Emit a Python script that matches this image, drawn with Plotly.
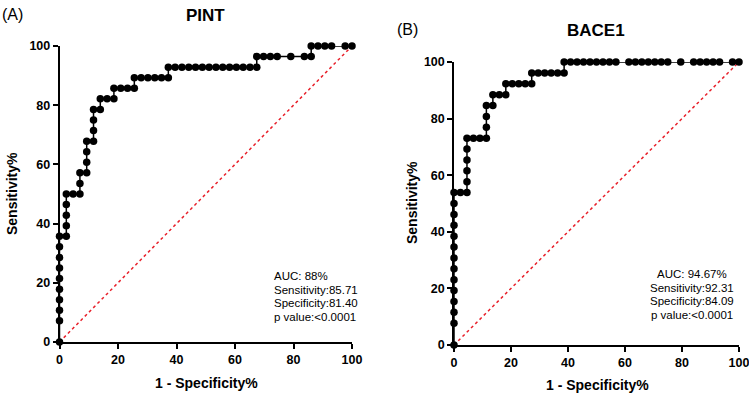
import plotly.graph_objects as go

# ---------------- data ----------------
pint_fpr = [0, 0, 0, 0, 0, 0, 0, 0, 0, 0,
            2.33, 2.33, 2.33, 2.33, 2.33,
            4.65,
            6.98, 6.98, 6.98,
            9.30, 9.30, 9.30, 9.30,
            11.63, 11.63, 11.63, 11.63,
            13.95, 13.95,
            16.28,
            18.60, 18.60,
            20.93, 23.26,
            25.58, 25.58,
            27.91, 30.23, 32.56, 34.88,
            37.21, 37.21,
            39.53, 41.86, 44.19, 46.51, 48.84, 51.16, 53.49, 55.81, 58.14, 60.47, 62.79, 65.12,
            67.44, 67.44,
            69.77, 72.09, 74.42,
            79.07,
            83.72,
            86.05, 86.05,
            88.37, 90.70, 93.02,
            97.67, 100]
pint_sens = [0, 7.14, 10.71, 14.29, 17.86, 21.43, 25.00, 28.57, 32.14, 35.71,
             35.71, 39.29, 42.86, 46.43, 50.00,
             50.00,
             50.00, 53.57, 57.14,
             57.14, 60.71, 64.29, 67.86,
             67.86, 71.43, 75.00, 78.57,
             78.57, 82.14,
             82.14,
             82.14, 85.71,
             85.71, 85.71,
             85.71, 89.29,
             89.29, 89.29, 89.29, 89.29,
             89.29, 92.86,
             92.86, 92.86, 92.86, 92.86, 92.86, 92.86, 92.86, 92.86, 92.86, 92.86, 92.86, 92.86,
             92.86, 96.43,
             96.43, 96.43, 96.43,
             96.43,
             96.43,
             96.43, 100,
             100, 100, 100,
             100, 100]

bace1_fpr = [0, 0, 0, 0, 0, 0, 0, 0, 0, 0, 0, 0, 0, 0,
             2.27,
             4.55, 4.55, 4.55, 4.55, 4.55, 4.55,
             6.82, 9.09,
             11.36, 11.36, 11.36, 11.36,
             13.64, 13.64,
             15.91,
             18.18, 18.18,
             20.45, 22.73, 25.00,
             27.27, 27.27,
             29.55, 31.82, 34.09, 36.36,
             38.64, 38.64,
             40.91, 43.18, 45.45, 47.73, 50.00, 52.27, 54.55, 56.82,
             61.36, 63.64, 65.91, 68.18, 70.45, 72.73, 75.00,
             79.55,
             84.09, 86.36, 88.64, 90.91, 93.18,
             97.73, 100]
bace1_sens = [0, 7.69, 11.54, 15.38, 19.23, 23.08, 26.92, 30.77, 34.62, 38.46, 42.31, 46.15, 50.00, 53.85,
              53.85,
              53.85, 57.69, 61.54, 65.38, 69.23, 73.08,
              73.08, 73.08,
              73.08, 76.92, 80.77, 84.62,
              84.62, 88.46,
              88.46,
              88.46, 92.31,
              92.31, 92.31, 92.31,
              92.31, 96.15,
              96.15, 96.15, 96.15, 96.15,
              96.15, 100,
              100, 100, 100, 100, 100, 100, 100, 100,
              100, 100, 100, 100, 100, 100, 100,
              100,
              100, 100, 100, 100, 100,
              100, 100]

ref_line = [0, 100]
tick_vals = [0, 20, 40, 60, 80, 100]
tick_text = ["0", "20", "40", "60", "80", "100"]

panel_titles = ["PINT", "BACE1"]
panel_tags = ["(A)", "(B)"]
pint_stats = ["AUC: 88%", "Sensitivity:85.71", "Specificity:81.40", "p value:<0.0001"]
bace1_stats = ["AUC: 94.67%", "Sensitivity:92.31", "Specificity:84.09", "p value:<0.0001"]

# ---------------- figure ----------------
W, H = 749, 398
FONT = "Arial, Liberation Sans, Helvetica, sans-serif"

fig = go.Figure()

def add_panel(fpr, sens, xa, ya):
    fig.add_trace(go.Scatter(
        x=ref_line, y=ref_line, mode="lines",
        line=dict(color="#e8202a", width=1.5, dash="dot"),
        xaxis=xa, yaxis=ya, hoverinfo="skip", showlegend=False, cliponaxis=False))
    fig.add_trace(go.Scatter(
        x=fpr, y=sens, mode="lines+markers",
        line=dict(color="black", width=1.5),
        marker=dict(color="black", size=7.5),
        xaxis=xa, yaxis=ya, showlegend=False, cliponaxis=False))

add_panel(pint_fpr, pint_sens, "x", "y")
add_panel(bace1_fpr, bace1_sens, "x2", "y2")

def px_x(p):
    return p / W

def px_y(p):
    return 1 - p / H

axis_common = dict(
    range=[0, 100], showgrid=False, zeroline=False, automargin=False,
    showline=True, linecolor="black", linewidth=1.5,
    ticks="outside", ticklen=5, tickwidth=1.5, tickcolor="black",
    tickvals=tick_vals, ticktext=["<b>%s</b>" % t for t in tick_text],
    tickfont=dict(family=FONT, size=12.5, color="black"),
    ticklabeloverflow="allow",
    fixedrange=True,
)

# panel pixel boxes: (x0, x100, y100, y0)
boxes = [(59.5, 352, 46, 342), (454, 739, 62, 345)]

fig.update_layout(
    width=W, height=H,
    margin=dict(l=0, r=0, t=0, b=0, autoexpand=False),
    paper_bgcolor="white", plot_bgcolor="white",
    xaxis=dict(domain=[px_x(boxes[0][0]), px_x(boxes[0][1])], anchor="y", **axis_common),
    yaxis=dict(domain=[px_y(boxes[0][3]), px_y(boxes[0][2])], anchor="x", **axis_common),
    xaxis2=dict(domain=[px_x(boxes[1][0]), px_x(boxes[1][1])], anchor="y2", **axis_common),
    yaxis2=dict(domain=[px_y(boxes[1][3]), px_y(boxes[1][2])], anchor="x2", **axis_common),
)

ann = []
# tags and titles
tag_pos = [(12, 15), (407, 30)]
title_pos = [(205, 16), (596, 31)]
for i in range(2):
    ann.append(dict(text=panel_tags[i], x=px_x(tag_pos[i][0]), y=px_y(tag_pos[i][1]),
                    xref="paper", yref="paper", showarrow=False,
                    font=dict(family=FONT, size=16, color="black"),
                    xanchor="center", yanchor="middle"))
    ann.append(dict(text="<b>%s</b>" % panel_titles[i], x=px_x(title_pos[i][0]), y=px_y(title_pos[i][1]),
                    xref="paper", yref="paper", showarrow=False,
                    font=dict(family=FONT, size=17, color="black"),
                    xanchor="center", yanchor="middle"))

# axis titles
xtitle_pos = [(206, 383), (597, 385)]
ytitle_pos = [(12, 194), (412, 203)]
for i in range(2):
    ann.append(dict(text="<b>1 - Specificity%</b>", x=px_x(xtitle_pos[i][0]), y=px_y(xtitle_pos[i][1]),
                    xref="paper", yref="paper", showarrow=False,
                    font=dict(family=FONT, size=14, color="black"),
                    xanchor="center", yanchor="middle"))
    ann.append(dict(text="<b>Sensitivity%</b>", x=px_x(ytitle_pos[i][0]), y=px_y(ytitle_pos[i][1]),
                    xref="paper", yref="paper", showarrow=False, textangle=-90,
                    font=dict(family=FONT, size=14, color="black"),
                    xanchor="center", yanchor="middle"))

# stats text
left_lines_y = [276, 289.5, 303, 316.5]
for line, yy in zip(pint_stats, left_lines_y):
    ann.append(dict(text=line, x=px_x(272), y=px_y(yy), xref="paper", yref="paper",
                    showarrow=False, font=dict(family=FONT, size=11.5, color="black"),
                    xanchor="left", yanchor="middle"))
right_lines_y = [274, 287.5, 301, 314.5]
for line, yy in zip(bace1_stats, right_lines_y):
    ann.append(dict(text=line, x=px_x(692), y=px_y(yy), xref="paper", yref="paper",
                    showarrow=False, font=dict(family=FONT, size=11.5, color="black"),
                    xanchor="center", yanchor="middle"))

fig.update_layout(annotations=ann)

fig.write_html("out.html", config={"displayModeBar": False},
               post_script="document.body.style.margin='0';document.body.style.overflow='hidden';")
